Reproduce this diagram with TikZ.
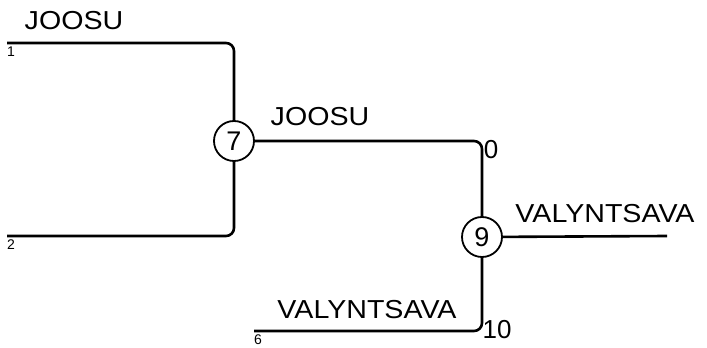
\documentclass[tikz,border=0pt]{standalone}
\usepackage{fontspec}
\setmainfont{Liberation Sans}
\usetikzlibrary{positioning}

\newcommand{\widen}[1]{\scalebox{1.1}[1]{#1}}

\tikzset{
  branch/.style={line width=2.6pt, rounded corners=8pt},
  joint/.style={circle, draw, line width=1.8pt, minimum size=40pt, inner sep=0pt,
    font=\fontsize{27}{30}\selectfont},
  taxon/.style={font=\fontsize{26}{30}\selectfont, inner sep=0pt},
  num/.style={font=\fontsize{26}{29}\selectfont, inner sep=0pt},
  leafnum/.style={font=\fontsize{14}{16}\selectfont, inner sep=0pt}
}

\begin{document}
\begin{tikzpicture}[x=1pt, y=1pt]
  \useasboundingbox (0,0) rectangle (707,348);

  % leaves and inner points
  \coordinate (l1) at (7,305);
  \coordinate (l2) at (7,112);
  \coordinate (l6) at (254,17);
  \coordinate (r9) at (667,112);
  \node[joint] (n7) at (234,207) {7};
  \node[joint] (n9) at (482,111) {9};

  % branches
  \draw[branch] (l1) -| (n7);
  \draw[branch] (l2) -| (n7);
  \draw[branch] (n7) -| (n9);
  \draw[branch] (l6) -| (n9);
  \draw[branch] (n9) -- (r9);

  % labels
  \node[taxon] (t1) at (74,327) {\widen{JOOSU}};
  \node[taxon] (t7) at (320,231) {\widen{JOOSU}};
  \node[taxon] (t9) at (605,134) {\widen{VALYNTSAVA}};
  \node[taxon] (t6) at (367,38) {\widen{VALYNTSAVA}};
  \node[leafnum, anchor=north west] (k1) at ([yshift=-4pt]l1) {1};
  \node[leafnum, anchor=north west] (k2) at ([yshift=-4pt]l2) {2};
  \node[leafnum, anchor=north west] (k6) at ([yshift=-4pt]l6) {6};
  \node[num] (d0) at (491,198) {0};
  \node[num] (d10) at (497,18) {10};
\end{tikzpicture}
\end{document}
